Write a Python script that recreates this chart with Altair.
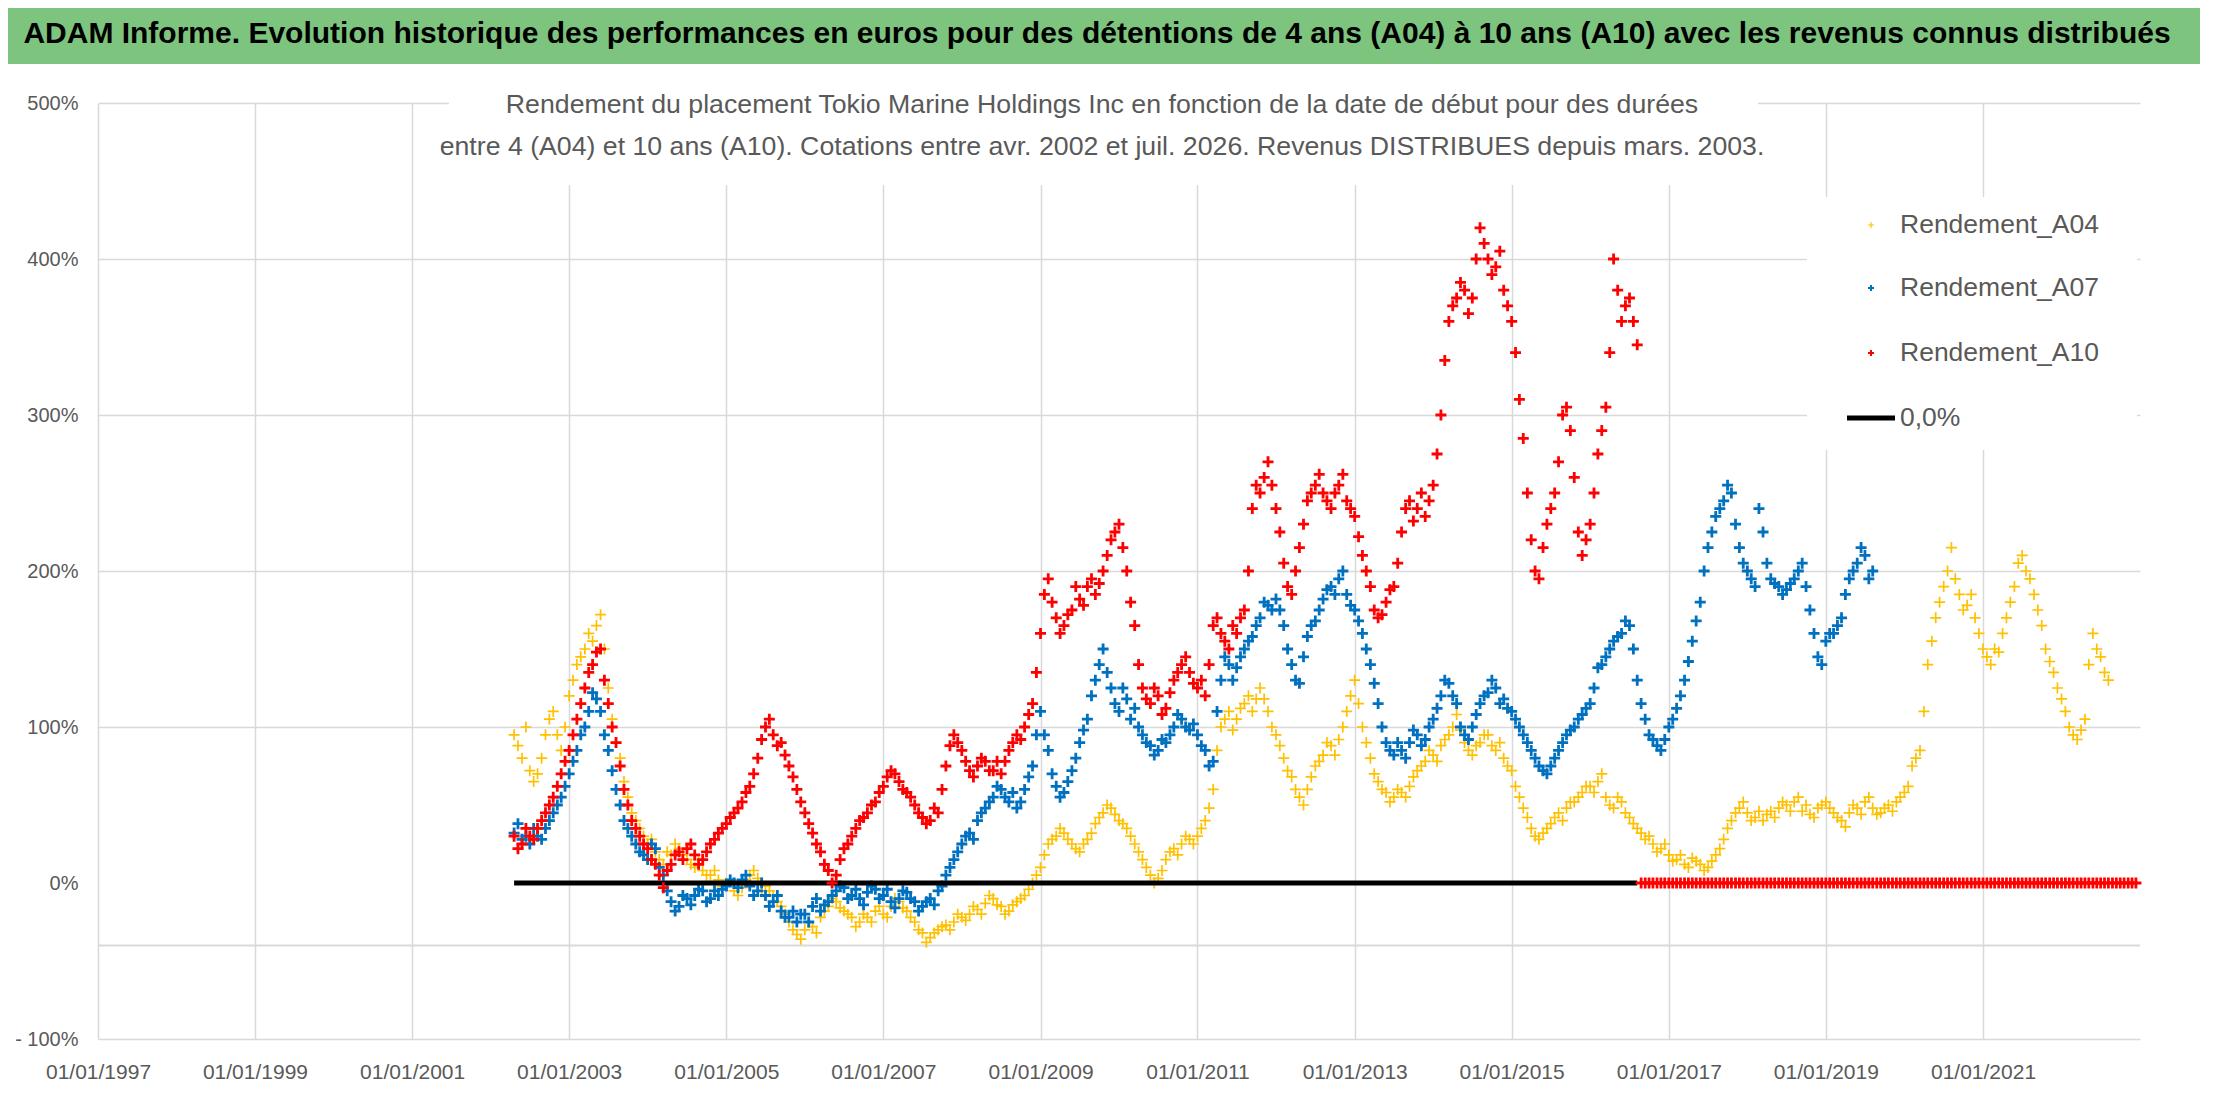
import altair as alt
import pandas as pd
import numpy as np

FONT = "Liberation Sans, Arial, sans-serif"
GREEN = "#7DC57E"
GRAY_TXT = "#595959"
GRID = "#d9d9d9"

TITLE = ("ADAM Informe. Evolution historique des performances en euros pour des détentions "
         "de 4 ans (A04) à 10 ans (A10) avec les revenus connus distribués")
SUB1 = "Rendement du placement Tokio Marine Holdings Inc en fonction de la date de début pour des durées"
SUB2 = ("entre 4 (A04) et 10 ans (A10). Cotations entre avr. 2002 et juil. 2026. "
        "Revenus DISTRIBUES depuis mars. 2003.")

series_names = ["Rendement_A04", "Rendement_A07", "Rendement_A10", "0,0%"]
series_colors = ["#FFC000", "#0070C0", "#FF0000", "#000000"]

# ---- Rendement_A04, read every 0.1 year from 2002.3 (values in %) ----
a04_start, a04_step = 2002.3, 0.1
a04_values = [95, 80, 72, 70, 95, 110, 85, 120, 140, 150,
              155, 172, 125, 90, 65, 45, 35, 25, 20, 12,
              18, 22, 15, 10, 8, 5, 2, 0, -5, -3,
              5, 3, -2, -8, -15, -25, -33, -30, -28, -22,
              -15, -12, -18, -22, -25, -22, -18, -20, -15, -12,
              -18, -25, -32, -35, -30, -27, -25, -22, -20, -17,
              -13, -10, -15, -18, -12, -8, 0, 10, 25, 30,
              32, 25, 20, 28, 38, 45, 48, 40, 35, 25,
              15, 5, 3, 15, 22, 25, 28, 30, 40, 60,
              100, 110, 105, 115, 110, 125, 110, 95, 80, 68,
              55, 60, 75, 82, 88, 92, 110, 130, 100, 80,
              65, 58, 55, 58, 62, 72, 78, 82, 88, 95,
              108, 90, 82, 90, 95, 85, 80, 72, 55, 42,
              30, 32, 38, 45, 48, 52, 58, 62, 65, 55,
              48, 52, 42, 35, 28, 25, 22, 18, 15, 12,
              16, 12, 10, 18, 28, 40, 48, 45, 42, 40,
              46, 48, 50, 52, 46, 44, 48, 52, 45, 40,
              45, 48, 52, 48, 45, 50, 52, 58, 75, 85,
              140, 170, 190, 215, 185, 178, 170, 150, 140, 148,
              170, 190, 210, 195, 175, 150, 135, 118, 100, 92,
              105, 160, 145, 130]
# same series, read half-way between (from 2002.35)
a04_mid_start = 2002.35
a04_mid_values = [88, 100, 65, 80, 105, 95, 100, 130, 145, 160,
                  165, 150, 105, 80, 55, 40, 30, 28, 15, 20,
                  25, 18, 12, 15, 5, 8, -2, 2, -8, 2,
                  8, -5, -5, -12, -20, -30, -36, -25, -32, -18,
                  -10, -16, -20, -28, -20, -25, -15, -22, -10, -16,
                  -22, -30, -38, -32, -28, -30, -20, -24, -15, -20,
                  -8, -14, -20, -14, -10, -4, 5, 18, 28, 35,
                  28, 22, 25, 32, 42, 50, 44, 38, 30, 20,
                  10, 0, 8, 20, 18, 30, 25, 35, 48, 85,
                  105, 98, 112, 120, 118, 118, 100, 88, 72, 60,
                  50, 68, 78, 90, 82, 100, 120, 115, 90, 70,
                  60, 52, 60, 55, 68, 75, 85, 78, 92, 100,
                  98, 85, 88, 95, 88, 90, 75, 62, 48, 35,
                  28, 35, 42, 40, 52, 55, 62, 58, 70, 50,
                  55, 45, 38, 32, 30, 20, 25, 14, 18, 10,
                  14, 8, 14, 22, 35, 45, 52, 40, 46, 44,
                  42, 52, 46, 55, 50, 42, 50, 48, 42, 36,
                  50, 44, 55, 44, 48, 46, 55, 62, 80, 110,
                  155, 180, 200, 195, 175, 185, 160, 145, 150, 160,
                  180, 205, 200, 185, 165, 142, 125, 110, 95, 98,
                  140, 150, 135]

# ---- Rendement_A07 ----
a07_start, a07_step = 2002.3, 0.1
a07_values = [32, 28, 25, 30, 35, 45, 55, 70, 85, 100,
              122, 110, 85, 60, 40, 30, 20, 15, 22, 5,
              -12, -15, -10, -8, -5, -10, -8, -2, 0, 2,
              -2, -5, -8, -12, -18, -22, -25, -20, -15, -18,
              -12, -5, -3, -8, -10, -6, -4, -8, -12, -10,
              -6, -12, -15, -10, -5, 5, 15, 25, 32, 40,
              48, 55, 60, 52, 48, 60, 75, 110, 85, 62,
              58, 72, 90, 105, 130, 150, 125, 110, 118, 112,
              95, 88, 85, 90, 100, 105, 98, 95, 85, 78,
              130, 140, 138, 150, 158, 170, 178, 182, 165, 140,
              128, 158, 168, 182, 190, 195, 185, 175, 160, 140,
              115, 90, 82, 85, 90, 95, 92, 105, 120, 128,
              115, 95, 100, 115, 122, 125, 118, 110, 100, 90,
              80, 72, 75, 85, 95, 100, 108, 115, 138, 145,
              155, 160, 165, 130, 105, 92, 85, 100, 112, 130,
              155, 180, 215, 235, 245, 250, 215, 200, 190, 225,
              195, 190, 188, 195, 205, 175, 145, 155, 160, 170,
              195, 205, 210, 200]
a07_mid_start = 2002.35
a07_mid_values = [38, 30, 35, 28, 40, 50, 62, 78, 95, 110,
                  118, 95, 72, 50, 35, 25, 18, 25, 10, -5,
                  -18, -8, -14, -4, -12, -5, -4, 2, -3, 5,
                  -8, 0, -15, -8, -22, -18, -20, -25, -10, -14,
                  -8, -2, -10, -4, -14, -2, -10, -4, -16, -5,
                  -10, -18, -12, -14, -2, 10, 20, 30, 28, 45,
                  52, 62, 55, 58, 52, 68, 95, 95, 70, 55,
                  65, 80, 98, 120, 140, 135, 115, 125, 105, 100,
                  90, 82, 92, 95, 108, 100, 102, 88, 75, 110,
                  145, 130, 145, 155, 165, 180, 175, 175, 150, 130,
                  145, 165, 175, 188, 185, 200, 178, 168, 150, 128,
                  100, 85, 90, 80, 98, 88, 100, 112, 130, 120,
                  100, 92, 108, 120, 130, 115, 112, 105, 95, 85,
                  75, 70, 80, 90, 98, 105, 112, 125, 140, 150,
                  158, 168, 150, 115, 95, 88, 92, 105, 120, 142,
                  168, 200, 225, 240, 255, 230, 205, 195, 240, 205,
                  192, 185, 192, 200, 190, 160, 140, 160, 165, 185,
                  200, 215, 195]

# ---- Rendement_A10 ----
a10_start, a10_step = 2002.3, 0.1
a10_values = [30, 25, 30, 35, 45, 55, 70, 85, 105, 125,
              140, 150, 115, 90, 60, 40, 30, 22, 12, -3,
              12, 20, 22, 18, 15, 25, 32, 38, 45, 52,
              62, 80, 100, 95, 90, 75, 60, 45, 32, 20,
              8, 5, 22, 30, 40, 45, 52, 62, 72, 65,
              58, 50, 42, 40, 45, 75, 95, 85, 72, 75,
              78, 72, 70, 85, 95, 100, 115, 160, 195, 170,
              165, 175, 182, 190, 185, 200, 220, 230, 200, 165,
              125, 115, 120, 112, 130, 140, 135, 125, 120, 165,
              160, 150, 160, 175, 240, 250, 270, 240, 205, 185,
              215, 245, 255, 250, 240, 255, 245, 235, 210, 190,
              170, 180, 190, 225, 245, 240, 235, 255, 300, 360,
              375, 380, 375, 420, 400, 395, 380, 360, 310, 250,
              200, 215, 240, 270, 305, 260, 210, 230, 275, 305,
              400, 360, 375, 345]
a10_mid_start = 2002.35
a10_mid_values = [22, 35, 28, 40, 50, 62, 78, 95, 115, 135,
                  148, 130, 100, 75, 50, 35, 25, 15, 5, 8,
                  18, 15, 25, 12, 20, 28, 35, 42, 48, 58,
                  70, 92, 105, 88, 82, 68, 52, 38, 25, 12,
                  0, 15, 25, 35, 42, 50, 58, 68, 70, 60,
                  55, 45, 38, 48, 60, 88, 90, 78, 68, 80,
                  72, 78, 78, 90, 92, 108, 135, 185, 180, 160,
                  172, 190, 178, 195, 192, 210, 225, 215, 180, 140,
                  118, 125, 108, 122, 135, 145, 128, 130, 140, 170,
                  155, 165, 170, 200, 255, 260, 255, 225, 190, 200,
                  230, 250, 262, 245, 250, 262, 240, 222, 200, 175,
                  172, 188, 205, 240, 232, 250, 245, 275, 335, 370,
                  385, 365, 400, 410, 390, 405, 370, 340, 285, 220,
                  195, 230, 250, 300, 290, 225, 220, 250, 290, 340,
                  380, 370, 360]

# A10 after the end of its 10-year window: plotted at 0 %
a10_tail_start, a10_tail_step = 2016.65, 0.05
a10_tail_values = [0.0] * 127

# 0,0% reference line
zero_years = [2002.3, 2016.6]
zero_values = [0.0, 0.0]

axis_cross_value = -40

year_ticks = list(range(1997, 2022, 2))
y_ticks = [-100, 0, 100, 200, 300, 400, 500]


def frac_to_date(y):
    yr = int(np.floor(y))
    s = pd.Timestamp(yr, 1, 1)
    e = pd.Timestamp(yr + 1, 1, 1)
    return (s + (e - s) * (y - yr)).strftime("%Y-%m-%d")


def rows(name, start, step, values):
    return [{"date": frac_to_date(round(start + i * step, 4)), "value": v, "series": name}
            for i, v in enumerate(values)]


df04 = pd.DataFrame(rows("Rendement_A04", a04_start, a04_step, a04_values)
                    + rows("Rendement_A04", a04_mid_start, a04_step, a04_mid_values))
df07 = pd.DataFrame(rows("Rendement_A07", a07_start, a07_step, a07_values)
                    + rows("Rendement_A07", a07_mid_start, a07_step, a07_mid_values))
df10 = pd.DataFrame(rows("Rendement_A10", a10_start, a10_step, a10_values)
                    + rows("Rendement_A10", a10_mid_start, a10_step, a10_mid_values)
                    + rows("Rendement_A10", a10_tail_start, a10_tail_step, a10_tail_values))
dfz = pd.DataFrame([{"date": frac_to_date(y), "value": v, "series": "0,0%"}
                    for y, v in zip(zero_years, zero_values)])

W, H = 2042, 936
PLUS = "M-1,0L1,0M0,-1L0,1"

color_enc = alt.Color("series:N", scale=alt.Scale(domain=series_names, range=series_colors),
                      legend=None)

x_enc = alt.X(
    "date:T", title=None,
    scale=alt.Scale(type="utc", domain=[alt.DateTime(year=1997, month=1, date=1, utc=True),
                                        alt.DateTime(year=2023, month=1, date=1, utc=True)]),
    axis=alt.Axis(values=[alt.DateTime(year=y, month=1, date=1, utc=True) for y in year_ticks],
                  format="%d/%m/%Y", domain=False, ticks=False, grid=True,
                  gridColor=GRID, gridWidth=1.5, labelFont=FONT, labelFontSize=21,
                  labelColor=GRAY_TXT, labelPadding=22, labelFlush=False, labelOverlap=False),
)
y_enc = alt.Y(
    "value:Q", title=None,
    scale=alt.Scale(domain=[-100, 500], nice=False, zero=False),
    axis=alt.Axis(values=y_ticks, domain=False, ticks=False, grid=True, gridColor=GRID,
                  gridWidth=1.5,
                  gridOpacity={"condition": {"test": "datum.value === 0", "value": 0}, "value": 1},
                  labelExpr="datum.value < 0 ? '- ' + abs(datum.value) + '%' : datum.value + '%'",
                  labelFont=FONT, labelFontSize=20, labelColor=GRAY_TXT, labelPadding=20,
                  labelFlush=False),
)

one = alt.Data(values=[{}])

banner = alt.Chart(one).mark_rect(color=GREEN).encode(
    x=alt.value(-90), x2=alt.value(W + 60), y=alt.value(-95), y2=alt.value(-39))
banner_text = alt.Chart(one).mark_text(
    text=TITLE, font=FONT, fontSize=30, fontWeight="bold", color="black",
    align="center", baseline="middle").encode(x=alt.value(999), y=alt.value(-69))

sub_box = alt.Chart(one).mark_rect(color="white").encode(
    x=alt.value(351), x2=alt.value(1660), y=alt.value(-39), y2=alt.value(82))
sub_text1 = alt.Chart(one).mark_text(
    text=SUB1, font=FONT, fontSize=26.7, color=GRAY_TXT, align="center", baseline="middle"
).encode(x=alt.value(1004), y=alt.value(2))
sub_text2 = alt.Chart(one).mark_text(
    text=SUB2, font=FONT, fontSize=26.7, color=GRAY_TXT, align="center", baseline="middle"
).encode(x=alt.value(1004), y=alt.value(44))

legend_box = alt.Chart(one).mark_rect(color="white").encode(
    x=alt.value(1709), x2=alt.value(2039), y=alt.value(94), y2=alt.value(347))

legend_rows_y = [122, 185, 250, 315]
legend_layers = []
for name, col, ly in zip(series_names, series_colors, legend_rows_y):
    legend_layers.append(alt.Chart(one).mark_text(
        text=name, font=FONT, fontSize=26.5, color=GRAY_TXT, align="left", baseline="middle"
    ).encode(x=alt.value(1802), y=alt.value(ly)))
    if name == "0,0%":
        legend_layers.append(alt.Chart(one).mark_rule(color=col, strokeWidth=5).encode(
            x=alt.value(1749), x2=alt.value(1797), y=alt.value(ly)))
    else:
        legend_layers.append(alt.Chart(one).mark_point(
            shape=PLUS, filled=False, size=36, opacity=1, color=col,
            strokeWidth=1.2 if name == "Rendement_A04" else 2).encode(
            x=alt.value(1773), y=alt.value(ly)))

cross_rule = alt.Chart(one).mark_rule(color=GRID, strokeWidth=2).encode(
    y=alt.Y(datum=axis_cross_value, type="quantitative"), x=alt.value(0), x2=alt.value(W))


def points(df, sw):
    return alt.Chart(df).mark_point(shape=PLUS, filled=False, size=121, strokeWidth=sw,
                                    opacity=1).encode(x=x_enc, y=y_enc, color=color_enc)


p04 = points(df04, 1.7)
p07 = points(df07, 2.8)
zline = alt.Chart(dfz).mark_line(strokeWidth=5, strokeCap="butt").encode(
    x=x_enc, y=y_enc, color=color_enc)
p10 = points(df10, 2.8)

chart = alt.layer(
    banner, banner_text, sub_box, sub_text1, sub_text2, legend_box, *legend_layers,
    cross_rule, p04, p07, zline, p10
).properties(
    width=W, height=H,
    padding={"left": 90, "top": 95, "right": 60, "bottom": 50},
    autosize=alt.AutoSizeParams(type="none"),
    background="white",
).configure_view(stroke=None)

chart.save("out.html", embed_options={"renderer": "svg", "actions": False})
